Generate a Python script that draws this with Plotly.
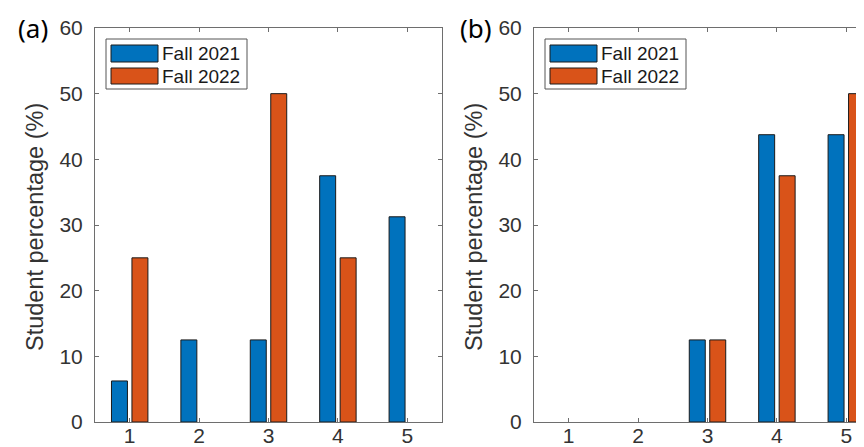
import plotly.graph_objects as go

categories = [1, 2, 3, 4, 5]
series_names = ["Fall 2021", "Fall 2022"]
a_fall2021 = [6.25, 12.5, 12.5, 37.5, 31.25]
a_fall2022 = [25, 0, 50, 25, 0]
b_fall2021 = [0, 0, 12.5, 43.75, 43.75]
b_fall2022 = [0, 0, 12.5, 37.5, 50]
y_ticks = [0, 10, 20, 30, 40, 50, 60]
y_title = "Student percentage (%)"
panel_labels = ["(a)", "(b)"]

BLUE = "#0072BD"
ORANGE = "#D95319"
W, H = 864, 447
T, B = 20, 33
PH = H - T - B

def px(x):
    return x / W

def py(y):
    return (H - B - y) / PH

fig = go.Figure()
panels = [(a_fall2021, a_fall2022, "x", "y"), (b_fall2021, b_fall2022, "x2", "y2")]
for s1, s2, xa, ya in panels:
    for vals, name, col in ((s1, series_names[0], BLUE), (s2, series_names[1], ORANGE)):
        shown = [v if v != 0 else None for v in vals]
        fig.add_trace(go.Bar(x=categories, y=shown, name=name, xaxis=xa, yaxis=ya,
                             marker=dict(color=col, line=dict(color="#1a1a1a", width=1)),
                             showlegend=False))

axis_col = "#6e6e6e"
tick_font = dict(family="Liberation Sans, Arial, sans-serif", size=21, color="#333333")
common_x = dict(tickmode="array", tickvals=categories, ticks="inside", ticklen=4,
                tickcolor=axis_col, showline=True, linecolor=axis_col, linewidth=1,
                showgrid=False, zeroline=False, tickfont=tick_font, ticklabelstandoff=-5)
common_y = dict(range=[0, 60], tickmode="array", tickvals=y_ticks, ticks="inside", ticklen=4,
                tickcolor=axis_col, showline=True, linecolor=axis_col, linewidth=1,
                showgrid=False, zeroline=False, tickfont=tick_font, ticklabelstandoff=7)

spacing = (434 - 87) / 5.0
fig.update_layout(
    width=W, height=H, margin=dict(l=0, r=0, t=T, b=B),
    paper_bgcolor="white", plot_bgcolor="white",
    barmode="group", bargap=0.41, bargroupgap=0.22,
    xaxis=dict(domain=[px(87), px(434)], range=[0.5, 5.5], mirror="ticks", anchor="y", **common_x),
    yaxis=dict(domain=[0, 1], mirror="ticks", anchor="x", **common_y),
    xaxis2=dict(domain=[px(526), 1.0], range=[0.5, 0.5 + (864 - 526) / spacing], mirror="ticks",
                anchor="y2", **common_x),
    yaxis2=dict(domain=[0, 1], mirror=False, anchor="x2", **common_y),
)

shapes = []
annotations = []
legend_font = dict(family="Liberation Sans, Arial, sans-serif", size=19, color="#1a1a1a")
for i, dx in enumerate([0, 439]):
    shapes.append(dict(type="rect", xref="paper", yref="paper",
                       x0=px(98 + dx), x1=px(239 + dx), y0=py(31), y1=py(81),
                       fillcolor="white", line=dict(color="#555555", width=1), layer="above"))
    for j, (col, y0, y1) in enumerate([(BLUE, 37, 54), (ORANGE, 60, 76)]):
        shapes.append(dict(type="rect", xref="paper", yref="paper",
                           x0=px(103 + dx), x1=px(150 + dx), y0=py(y0), y1=py(y1),
                           fillcolor=col, line=dict(color="#1a1a1a", width=1), layer="above"))
        annotations.append(dict(xref="paper", yref="paper", x=px(152 + dx), y=py((y0 + y1) / 2),
                                text=series_names[j], showarrow=False, xanchor="left",
                                yanchor="middle", font=legend_font))
    annotations.append(dict(xref="paper", yref="paper", x=px(27 + dx), y=py(219),
                            text=y_title, textangle=-90, showarrow=False,
                            xanchor="center", yanchor="middle",
                            font=dict(family="Liberation Sans, Arial, sans-serif", size=23.5,
                                      color="#333333")))
    annotations.append(dict(xref="paper", yref="paper", x=px([25, 468][i]), y=py(20),
                            text=panel_labels[i], showarrow=False, xanchor="center",
                            yanchor="middle",
                            font=dict(family="Noto Sans, sans-serif", size=26, color="black")))

fig.update_layout(shapes=shapes, annotations=annotations)
fig.write_html("out.html")
